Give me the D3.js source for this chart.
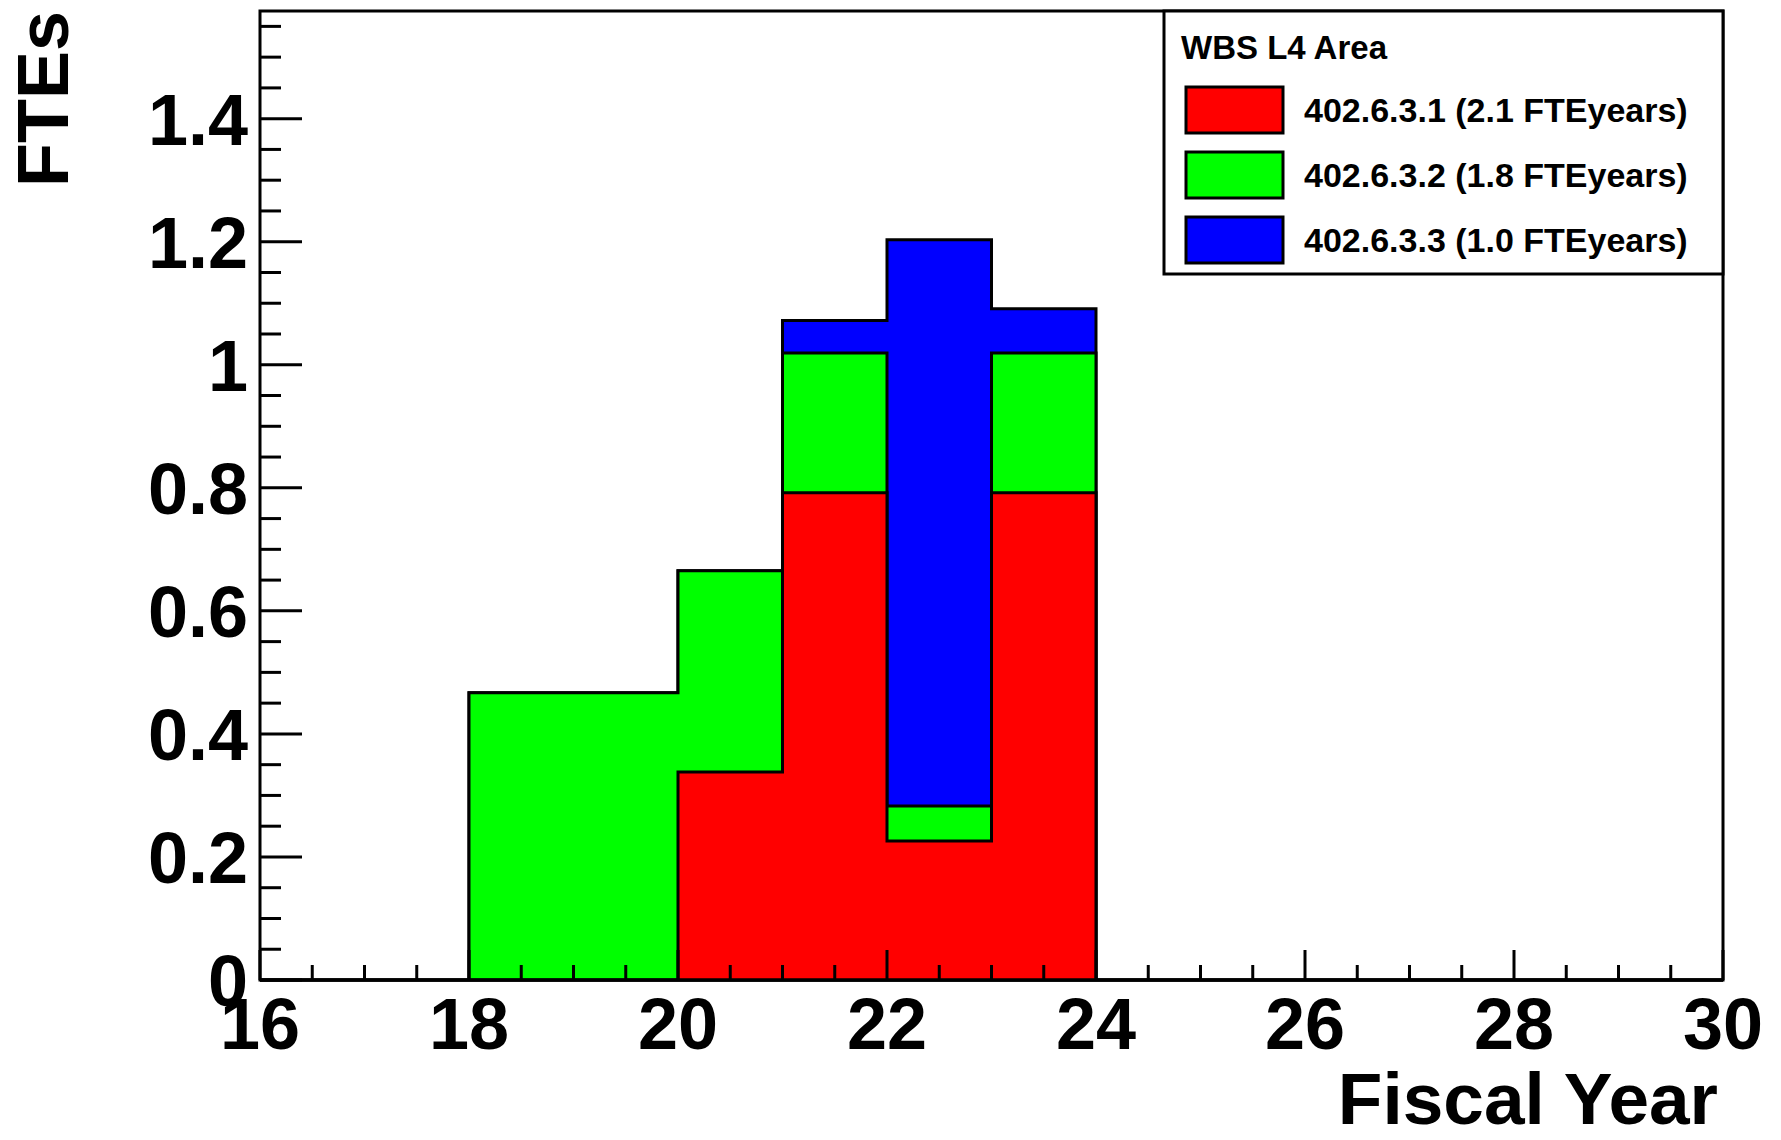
<!DOCTYPE html>
<html>
<head>
<meta charset="utf-8">
<script src="https://cdn.jsdelivr.net/npm/d3@7"></script>
<style>
  html, body { margin: 0; padding: 0; background: #fff; }
  svg text { font-family: "Liberation Sans", Arial, Helvetica, sans-serif; font-weight: bold; fill: #000; }
</style>
</head>
<body>
<svg id="chart" width="1781" height="1140"></svg>
<script>
// ---- data ----
const binLow = [16, 17, 18, 19, 20, 21, 22, 23, 24, 25, 26, 27, 28, 29];
const series402631 = [0, 0, 0, 0, 0.338, 0.792, 0.226, 0.792, 0, 0, 0, 0, 0, 0];
const series402632 = [0, 0, 0.467, 0.467, 0.327, 0.227, 0.057, 0.227, 0, 0, 0, 0, 0, 0];
const series402633 = [0, 0, 0, 0, 0, 0.053, 0.920, 0.072, 0, 0, 0, 0, 0, 0];
const seriesKeys = ["402.6.3.1", "402.6.3.2", "402.6.3.3"];
const seriesLabels = ["402.6.3.1 (2.1 FTEyears)", "402.6.3.2 (1.8 FTEyears)", "402.6.3.3 (1.0 FTEyears)"];
const seriesColors = ["#ff0000", "#00ff00", "#0000ff"];
const legendTitle = "WBS L4 Area";
const xTicks = [16, 18, 20, 22, 24, 26, 28, 30];
const yTicks = [0, 0.2, 0.4, 0.6, 0.8, 1, 1.2, 1.4];
const yTickLabels = ["0", "0.2", "0.4", "0.6", "0.8", "1", "1.2", "1.4"];
const xTitle = "Fiscal Year";
const yTitle = "FTEs";
const xDomain = [16, 30];
const yDomain = [0, 1.575];

// ---- layout ----
const svg = d3.select("#chart");
svg.append("rect").attr("width", 1781).attr("height", 1140).attr("fill", "#fff");
const L = 260, R = 1723, T = 11, B = 980;
const x = d3.scaleLinear().domain(xDomain).range([L, R]);
const y = d3.scaleLinear().domain(yDomain).range([B, T]);

// stacked data
const rows = binLow.map((b, i) => ({
  x: b,
  [seriesKeys[0]]: series402631[i],
  [seriesKeys[1]]: series402632[i],
  [seriesKeys[2]]: series402633[i]
}));
const stacked = d3.stack().keys(seriesKeys)(rows);

const area = d3.area()
  .curve(d3.curveStepAfter)
  .x(d => x(d.x))
  .y0(y(0))
  .y1(d => y(d.v));

// draw cumulative histograms: total first, then smaller on top (ROOT THStack style)
for (let k = stacked.length - 1; k >= 0; k--) {
  const layer = stacked[k];
  const pts = layer.map(d => ({ x: d.data.x, v: d[1] }));
  pts.push({ x: xDomain[1], v: pts[pts.length - 1].v });
  svg.append("path")
    .attr("d", area(pts))
    .attr("fill", seriesColors[k])
    .attr("stroke", "#000")
    .attr("stroke-width", 3)
    .attr("stroke-linejoin", "miter");
}

// ---- axes (ticks inside) ----
const axisG = svg.append("g");
// x ticks: major every 2, minor every 0.5
const xMinor = d3.range(xDomain[0], xDomain[1] + 0.001, 0.5);
axisG.selectAll("line.xt").data(xMinor).enter().append("line")
  .attr("x1", d => x(d)).attr("x2", d => x(d))
  .attr("y1", B)
  .attr("y2", d => B - (Math.abs(d % 2) < 1e-9 ? 30 : 15))
  .attr("stroke", "#000").attr("stroke-width", 3);
// y ticks: major every 0.2, minor every 0.05
const yMinor = d3.range(0, yDomain[1], 0.05);
axisG.selectAll("line.yt").data(yMinor).enter().append("line")
  .attr("y1", d => y(d)).attr("y2", d => y(d))
  .attr("x1", L)
  .attr("x2", d => L + (Math.abs(Math.round(d * 100) % 20) === 0 ? 42 : 21))
  .attr("stroke", "#000").attr("stroke-width", 3);

// frame
svg.append("rect")
  .attr("x", L).attr("y", T).attr("width", R - L).attr("height", B - T)
  .attr("fill", "none").attr("stroke", "#000").attr("stroke-width", 3);

// tick labels
svg.selectAll("text.xl").data(xTicks).enter().append("text")
  .attr("x", d => x(d)).attr("y", 1049)
  .attr("text-anchor", "middle").attr("font-size", 72)
  .text(d => d);
svg.selectAll("text.yl").data(yTicks).enter().append("text")
  .attr("x", L - 12).attr("y", d => y(d) + 26)
  .attr("text-anchor", "end").attr("font-size", 72)
  .text((d, i) => yTickLabels[i]);

// axis titles
svg.append("text")
  .attr("x", R - 5).attr("y", 1124)
  .attr("text-anchor", "end").attr("font-size", 73)
  .text(xTitle);
svg.append("text")
  .attr("transform", `translate(68,${T}) rotate(-90)`)
  .attr("text-anchor", "end").attr("font-size", 72)
  .text(yTitle);

// ---- legend ----
const lg = svg.append("g");
lg.append("rect")
  .attr("x", 1164).attr("y", T).attr("width", R - 1164).attr("height", 274 - T)
  .attr("fill", "#fff").attr("stroke", "#000").attr("stroke-width", 3);
lg.append("text").attr("x", 1181).attr("y", 59).attr("font-size", 33).text(legendTitle);
seriesKeys.forEach((k, i) => {
  const cy = 110 + i * 65;
  lg.append("rect")
    .attr("x", 1186).attr("y", cy - 23).attr("width", 97).attr("height", 46)
    .attr("fill", seriesColors[i]).attr("stroke", "#000").attr("stroke-width", 3);
  lg.append("text").attr("x", 1304).attr("y", cy + 12).attr("font-size", 34).text(seriesLabels[i]);
});
</script>
</body>
</html>
